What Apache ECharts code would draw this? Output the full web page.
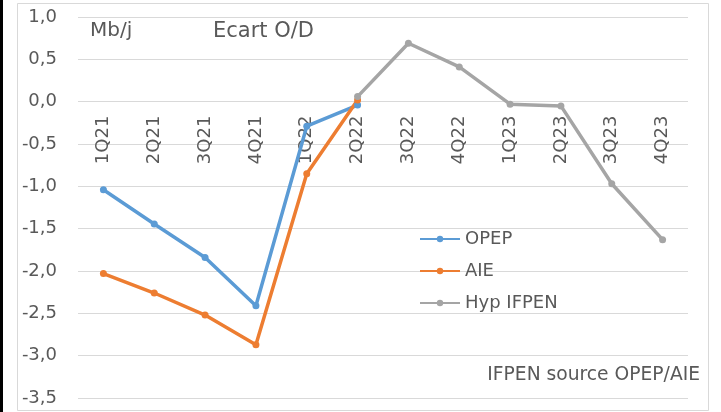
<!DOCTYPE html>
<html>
<head>
<meta charset="utf-8">
<script src="https://cdn.jsdelivr.net/npm/echarts@6/dist/echarts.min.js"></script>
<style>html,body{margin:0;padding:0;background:#fff}#c{width:721px;height:412px}</style>
</head>
<body>
<div id="c"></div>
<script>
const categories = ['1Q21','2Q21','3Q21','4Q21','1Q22','2Q22','3Q22','4Q22','1Q23','2Q23','3Q23','4Q23'];
const opep = [-1.04, -1.445, -1.84, -2.41, -0.29, -0.04, null, null, null, null, null, null];
const aie = [-2.03, -2.26, -2.52, -2.87, -0.85, 0.02, null, null, null, null, null, null];
const hypIfpen = [null, null, null, null, null, 0.06, 0.69, 0.41, -0.03, -0.05, -0.97, -1.63];
const seriesNames = ['OPEP', 'AIE', 'Hyp IFPEN'];
const yTicks = { min: -3.5, max: 1.0, interval: 0.5 };

const FONT = 'DejaVu Sans';
const TXT = '#595959';
const colors = ['#5B9BD5', '#ED7D31', '#A5A5A5'];

function mkSeries(name, data, color) {
  return {
    name: name, type: 'line', data: data, connectNulls: false, z: 3,
    symbol: 'circle', symbolSize: 7, showSymbol: true,
    lineStyle: { color: color, width: 3.5 },
    itemStyle: { color: color },
    emphasis: { disabled: true }, animation: false
  };
}

const chart = echarts.init(document.getElementById('c'));
const option = {
  animation: false,
  backgroundColor: '#fff',
  color: colors,
  grid: { left: 78, right: 33, top: 17, bottom: 14, containLabel: false, outerBoundsMode: 'none' },
  xAxis: {
    type: 'category', data: categories, boundaryGap: true, position: 'bottom', offset: 0, z: 0,
    axisLine: { show: false, onZero: false },
    axisTick: { show: false },
    splitLine: { show: false },
    axisLabel: { rotate: 90, margin: 14, color: TXT, fontFamily: FONT, fontSize: 18, interval: 0 }
  },
  yAxis: {
    type: 'value', min: yTicks.min, max: yTicks.max, interval: yTicks.interval,
    axisLine: { show: false, onZero: false }, axisTick: { show: false },
    splitLine: { lineStyle: { color: '#d9d9d9', width: 1 } },
    axisLabel: { margin: 21, color: TXT, fontFamily: FONT, fontSize: 18,
      formatter: v => v.toFixed(1).replace('.', ',') }
  },
  legend: {
    orient: 'vertical', left: 414, top: 225,
    itemWidth: 40, itemHeight: 8, itemGap: 14,
    textStyle: { color: TXT, fontFamily: FONT, fontSize: 18, lineHeight: 18 },
    data: seriesNames
  },
  series: [
    mkSeries(seriesNames[0], opep, colors[0]),
    mkSeries(seriesNames[1], aie, colors[1]),
    mkSeries(seriesNames[2], hypIfpen, colors[2])
  ],
  graphic: [
    { type: 'rect', shape: { x: 17.5, y: 3.5, width: 691, height: 407 }, style: { fill: 'none', stroke: '#d9d9d9', lineWidth: 1 }, silent: true, z: -1 },
    { type: 'rect', shape: { x: 0, y: 0, width: 3, height: 412 }, style: { fill: '#000' }, silent: true },
    { type: 'text', left: 90, top: 21, style: { text: 'Mb/j', fill: TXT, font: '20px "DejaVu Sans"' }, silent: true },
    { type: 'text', left: 213, top: 21, style: { text: 'Ecart O/D', fill: TXT, font: '21px "DejaVu Sans"' }, silent: true },
    { type: 'text', right: 21, top: 366, style: { text: 'IFPEN source OPEP/AIE', fill: TXT, font: '18.7px "DejaVu Sans"' }, silent: true }
  ]
};
chart.setOption(option);
// place the category axis on the zero line (Excel "axis crosses at 0")
const zeroY = chart.convertToPixel({ yAxisIndex: 0 }, 0);
const bottomY = chart.convertToPixel({ yAxisIndex: 0 }, yTicks.min);
chart.setOption({ xAxis: { offset: zeroY - bottomY } });
</script>
</body>
</html>
